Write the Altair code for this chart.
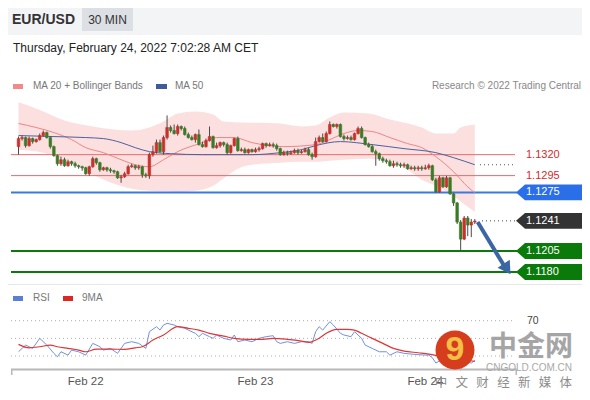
import altair as alt
import pandas as pd

# ---------------- data (EUR/USD 30-min candles, index 0 = Feb 21 14:30) ----------------
opens = [1.13296,1.13392,1.13404,1.13308,1.13392,1.13356,1.13380,1.13428,1.13464,1.13404,
         1.13296,1.13188,1.13092,1.13140,1.13068,1.13116,1.13092,1.13068,1.13056,1.13044,
         1.12972,1.13056,1.13152,1.13104,1.13020,1.13044,1.13020,1.13008,1.12996,1.12924,
         1.12936,1.12972,1.13056,1.13068,1.13044,1.13056,1.12960,1.12948,1.13200,1.13236,
         1.13344,1.13236,1.13404,1.13524,1.13488,1.13452,1.13536,1.13512,1.13440,1.13404,
         1.13380,1.13440,1.13320,1.13296,1.13368,1.13416,1.13284,1.13308,1.13344,1.13320,
         1.13224,1.13308,1.13392,1.13248,1.13260,1.13224,1.13260,1.13236,1.13260,1.13272,
         1.13332,1.13308,1.13320,1.13308,1.13272,1.13200,1.13224,1.13212,1.13224,1.13248,
         1.13224,1.13236,1.13260,1.13200,1.13176,1.13356,1.13404,1.13356,1.13452,1.13560,
         1.13536,1.13560,1.13416,1.13392,1.13404,1.13380,1.13452,1.13512,1.13404,1.13320,
         1.13296,1.13236,1.13212,1.13152,1.13128,1.13116,1.13068,1.13092,1.13080,1.13068,
         1.13080,1.13032,1.13044,1.13032,1.13044,1.13032,1.13044,1.13068,1.12900,1.12756,
         1.12924,1.12816,1.12924,1.12732,1.12624,1.12396,1.12192,1.12444,1.12360,1.12396]
highs = [1.13416,1.13428,1.13416,1.13416,1.13404,1.13392,1.13452,1.13488,1.13476,1.13416,
         1.13308,1.13200,1.13176,1.13164,1.13140,1.13128,1.13116,1.13080,1.13068,1.13056,
         1.13068,1.13176,1.13164,1.13116,1.13056,1.13056,1.13044,1.13020,1.13008,1.12960,
         1.12996,1.13080,1.13092,1.13080,1.13080,1.13068,1.12984,1.13224,1.13308,1.13380,
         1.13380,1.13428,1.13668,1.13548,1.13560,1.13560,1.13548,1.13536,1.13464,1.13428,
         1.13452,1.13500,1.13356,1.13392,1.13536,1.13428,1.13344,1.13356,1.13356,1.13344,
         1.13320,1.13404,1.13416,1.13284,1.13284,1.13272,1.13272,1.13284,1.13296,1.13344,
         1.13344,1.13344,1.13344,1.13332,1.13284,1.13248,1.13248,1.13248,1.13272,1.13272,
         1.13260,1.13284,1.13284,1.13224,1.13404,1.13428,1.13452,1.13476,1.13596,1.13572,
         1.13572,1.13572,1.13440,1.13428,1.13428,1.13464,1.13536,1.13536,1.13416,1.13344,
         1.13320,1.13260,1.13224,1.13176,1.13152,1.13140,1.13128,1.13116,1.13104,1.13104,
         1.13092,1.13068,1.13068,1.13068,1.13068,1.13080,1.13092,1.13080,1.12924,1.12948,
         1.12936,1.12948,1.12936,1.12744,1.12636,1.12420,1.12468,1.12468,1.12432,1.12432]
lows = [1.13200,1.13368,1.13284,1.13296,1.13332,1.13344,1.13368,1.13416,1.13392,1.13272,
        1.13176,1.13068,1.13068,1.13056,1.13056,1.13068,1.13044,1.13032,1.13008,1.12960,
        1.12948,1.13044,1.13080,1.12996,1.13008,1.12996,1.12984,1.12972,1.12912,1.12864,
        1.12924,1.12960,1.13044,1.13020,1.13020,1.12924,1.12924,1.12912,1.13176,1.13212,
        1.13224,1.13200,1.13380,1.13464,1.13440,1.13428,1.13488,1.13428,1.13392,1.13368,
        1.13344,1.13308,1.13284,1.13284,1.13356,1.13272,1.13272,1.13284,1.13296,1.13200,
        1.13212,1.13296,1.13236,1.13236,1.13212,1.13212,1.13224,1.13224,1.13236,1.13260,
        1.13284,1.13296,1.13284,1.13248,1.13188,1.13188,1.13188,1.13200,1.13212,1.13200,
        1.13212,1.13224,1.13188,1.13140,1.13164,1.13344,1.13344,1.13344,1.13440,1.13524,
        1.13512,1.13404,1.13368,1.13380,1.13368,1.13368,1.13440,1.13392,1.13308,1.13284,
        1.13224,1.13068,1.13128,1.13104,1.13092,1.13056,1.13044,1.13056,1.13044,1.13044,
        1.13020,1.13020,1.13008,1.13008,1.13008,1.13020,1.13020,1.12888,1.12744,1.12744,
        1.12804,1.12804,1.12720,1.12588,1.12372,1.12060,1.12180,1.12228,1.12216,1.12372]
closes = [1.13392,1.13404,1.13308,1.13392,1.13356,1.13380,1.13428,1.13464,1.13404,1.13296,
          1.13188,1.13092,1.13140,1.13068,1.13116,1.13092,1.13068,1.13056,1.13044,1.12972,
          1.13056,1.13152,1.13104,1.13020,1.13044,1.13020,1.13008,1.12996,1.12924,1.12936,
          1.12972,1.13056,1.13068,1.13044,1.13056,1.12960,1.12948,1.13200,1.13236,1.13344,
          1.13236,1.13404,1.13524,1.13488,1.13452,1.13536,1.13512,1.13440,1.13404,1.13380,
          1.13440,1.13320,1.13296,1.13368,1.13416,1.13284,1.13308,1.13344,1.13320,1.13224,
          1.13308,1.13392,1.13248,1.13260,1.13224,1.13260,1.13236,1.13260,1.13272,1.13332,
          1.13308,1.13320,1.13308,1.13272,1.13200,1.13224,1.13212,1.13224,1.13248,1.13224,
          1.13236,1.13260,1.13200,1.13176,1.13356,1.13404,1.13356,1.13452,1.13560,1.13536,
          1.13560,1.13416,1.13392,1.13404,1.13380,1.13452,1.13512,1.13404,1.13320,1.13296,
          1.13236,1.13212,1.13152,1.13128,1.13116,1.13068,1.13092,1.13080,1.13068,1.13080,
          1.13032,1.13044,1.13032,1.13044,1.13032,1.13044,1.13068,1.12900,1.12756,1.12924,
          1.12816,1.12924,1.12732,1.12624,1.12396,1.12192,1.12444,1.12360,1.12396,1.12408]

band_i = [0,7,13,21,27,32,37,41,45,50,55,58,63,68,74,80,84,88,92,99,105,110,114,118,123,125,129]
band_up = [1.13824,1.13716,1.13608,1.13536,1.13500,1.13488,1.13524,1.13596,1.13692,1.13716,
           1.13680,1.13596,1.13584,1.13580,1.13572,1.13536,1.13548,1.13644,1.13704,1.13692,
           1.13620,1.13572,1.13524,1.13452,1.13452,1.13524,1.13560]
band_lo = [1.13260,1.13224,1.13140,1.12960,1.12852,1.12792,1.12770,1.12762,1.12756,1.12770,
           1.12830,1.12920,1.13050,1.13090,1.13104,1.13116,1.13116,1.13128,1.13140,1.13152,
           1.13116,1.13020,1.12900,1.12828,1.12708,1.12640,1.12516]

ma20_i = [0,5,10,15,19,24,29,33,37,41,45,52,56,61,66,75,84,88,92,96,100,105,110,114,118,123,127,129]
ma20_v = [1.13572,1.13524,1.13464,1.13380,1.13284,1.13224,1.13140,1.13080,1.13056,1.13140,
          1.13236,1.13344,1.13404,1.13404,1.13344,1.13296,1.13320,1.13380,1.13452,1.13488,
          1.13476,1.13404,1.13332,1.13284,1.13176,1.12996,1.12816,1.12744]
ma50_i = [0,10,19,24,29,33,37,43,52,66,74,80,84,91,100,109,118,123,129]
ma50_v = [1.13428,1.13416,1.13404,1.13392,1.13344,1.13284,1.13236,1.13212,1.13200,1.13200,
          1.13224,1.13260,1.13308,1.13356,1.13320,1.13272,1.13224,1.13164,1.13080]

levels_red = [1.1320, 1.1295]
level_blue = 1.1275
level_last = 1.1241
levels_green = [1.1205, 1.1180]
ma50_last = 1.13080

arrow_i = [129.8, 137.2]
arrow_p = [1.12396, 1.11880]
arrow_head_i = [137.8]
arrow_head_p = [1.11856]

rsi_i = [0,2,4,6,8,10,11,12,14,15,17,19,21,23,24,26,28,30,32,34,36,37,39,40,41,42,44,45,47,48,
         50,51,52,54,55,56,58,60,61,62,64,66,68,70,72,73,74,76,78,80,82,83,84,85,86,88,89,91,92,94,
         95,97,98,100,102,104,105,107,109,112,115,116,117,118,120,122,124,125,126,128,129]
rsi_v = [34.8,42.4,38.6,50,42.4,33,29.1,34.8,31,36.7,34.8,31,44.3,40.5,36.7,38.6,33,44.3,46.2,44.3,
         38.6,57.5,63.2,59.4,65.1,67,65.1,63.2,61.4,59.4,55.7,51.9,55.7,51.9,50,53.8,50,48.1,53.8,46.2,
         48.1,46.2,50,51.9,53,46.2,44.3,46.2,44.3,46.2,46.2,44.3,57.5,63.2,59.4,68.9,65.1,55.7,53.8,51.9,
         57.5,50,42.4,38.6,34.8,34.8,31,34.8,33,31.8,31,31,28,22,27,21,17,14,24,22,25]
rsi_ma_i = [0,3,6,9,11,14,17,19,22,26,30,33,35,38,41,45,48,51,54,58,61,65,69,72,76,80,82,85,87,90,
            93,95,97,100,103,106,109,113,116,120,125,129]
rsi_ma_v = [43.2,39.3,40.5,42.4,40.5,38.6,36.7,34.8,37.8,37.8,37.5,39.3,40.5,48.1,53.8,63.2,61.4,59.4,55.7,52.6,
            50,48.9,48.9,50,48.9,46.9,45.4,50,55.7,60.2,60.2,59.4,55.7,50,44.3,38.6,35.6,33.7,32.2,29,
            26,24]
rsi_levels = [70, 50, 30]

day_idx = [19, 67, 115]
day_labels = ["Feb 22", "Feb 23", "Feb 24"]

wm_chars = ["中", "文", "财", "经", "新", "媒", "体"]

# ---------------- layout / styles ----------------
W, H = 574, 382
FONT = "Liberation Sans"
CJK = "Noto Sans CJK SC"
UP, DOWN = "#c8312c", "#3b7a26"
xs = alt.Scale(domain=[-1.5556, 157.889], nice=False, zero=False)
ps = alt.Scale(domain=[1.10392, 1.14950], nice=False, zero=False)
rs = alt.Scale(domain=[-8.53, 424.33], nice=False, zero=False)
X = lambda f: alt.X(f + ":Q", scale=xs, axis=None)
PY = lambda f: alt.Y(f + ":Q", scale=ps, axis=None)
RY = lambda f: alt.Y(f + ":Q", scale=rs, axis=None)

one = pd.DataFrame({"k": [0]})


def label(s, x, y, size=10, color="#666", weight="normal", align="left", font=FONT, opacity=1.0):
    return alt.Chart(one).mark_text(text=s, fontSize=size, color=color, fontWeight=weight, align=align,
                                    baseline="middle", font=font, opacity=opacity).encode(
        x=alt.value(x), y=alt.value(y))


def rect(x1, x2, y1, y2, color):
    return alt.Chart(one).mark_rect(color=color).encode(
        x=alt.value(x1), x2=alt.value(x2), y=alt.value(y1), y2=alt.value(y2))


def hline(p, scale, color, width, dash=None, x1=3, x2=507):
    kw = dict(color=color, strokeWidth=width)
    if dash:
        kw["strokeDash"] = dash
    return alt.Chart(pd.DataFrame({"p": [p]})).mark_rule(**kw).encode(
        x=alt.value(x1), x2=alt.value(x2), y=alt.Y("p:Q", scale=scale, axis=None))


BOX = "M-1,0L-0.727,-0.242L1,-0.242L1,0.242L-0.727,0.242Z"


def tag(p, fill):
    d = pd.DataFrame({"p": [p], "t": [f"{p:.4f}"]})
    b = alt.Chart(d).mark_point(shape=BOX, size=66 * 66, filled=True, opacity=1, strokeWidth=0, color=fill).encode(
        x=alt.value(541), y=PY("p"))
    t = alt.Chart(d).mark_text(align="left", baseline="middle", fontSize=11, color="white", font=FONT).encode(
        x=alt.value(518), y=PY("p"), text="t:N")
    return [b, t]


layers = []
# header
layers += [rect(0, W, 0, 27, "#f3f4f6"), rect(74, 125, 0, 23, "#dcdfe4"),
           label("EUR/USD", 4, 12, size=14, color="#333", weight="bold"),
           label("30 MIN", 99.5, 12, size=12, color="#333", align="center"),
           label("Thursday, February 24, 2022 7:02:28 AM CET", 5, 40, size=12, color="#222")]
# legend
layers += [rect(5, 15, 76, 81, "#f28a8a"), label("MA 20 + Bollinger Bands", 25, 78, color="#777"),
           rect(148, 159, 76, 81, "#3f5b9c"), label("MA 50", 167, 78, color="#777"),
           label("Research © 2022 Trading Central", 573, 78, color="#888", align="right")]

# bollinger band
bdf = pd.DataFrame({"i": band_i, "u": band_up, "l": band_lo})
layers.append(alt.Chart(bdf).mark_area(color="#fcdcdc", opacity=0.9, interpolate="monotone").encode(
    x=X("i"), y=PY("u"), y2="l:Q"))

# level lines
for p in levels_red:
    layers.append(hline(p, ps, "#e46b6b", 1))
layers.append(hline(level_blue, ps, "#3b78e0", 2, x2=509))
for p in levels_green:
    layers.append(hline(p, ps, "#0b7a0b", 2, x2=509))
layers.append(hline(level_last, ps, "#444", 1, dash=[1, 3], x1=474))
layers.append(hline(ma50_last, ps, "#555", 1, dash=[1, 3], x1=472))

# moving averages
layers.append(alt.Chart(pd.DataFrame({"i": ma20_i, "v": ma20_v})).mark_line(
    color="#ef8585", strokeWidth=1, interpolate="monotone").encode(x=X("i"), y=PY("v")))
layers.append(alt.Chart(pd.DataFrame({"i": ma50_i, "v": ma50_v})).mark_line(
    color="#4d61a0", strokeWidth=1, interpolate="monotone").encode(x=X("i"), y=PY("v")))

# candles
cdf = pd.DataFrame({"i": list(range(len(closes))), "o": opens, "h": highs, "l": lows, "c": closes})
cdf["dir"] = ["up" if c >= o else "down" for o, c in zip(opens, closes)]
cscale = alt.Scale(domain=["up", "down"], range=[UP, DOWN])
layers.append(alt.Chart(cdf).mark_rule(color="#4a4a4a", strokeWidth=1).encode(x=X("i"), y=PY("l"), y2="h:Q"))
layers.append(alt.Chart(cdf).mark_bar(size=2.6, strokeWidth=0.6).encode(
    x=X("i"), y=PY("o"), y2="c:Q",
    fill=alt.Fill("dir:N", scale=cscale, legend=None),
    stroke=alt.Stroke("dir:N", scale=cscale, legend=None)))

# level labels
for p in levels_red:
    layers.append(alt.Chart(pd.DataFrame({"p": [p], "t": [f"{p:.4f}"]})).mark_text(
        align="left", baseline="middle", fontSize=11, color="#d42a2a", font=FONT).encode(
        x=alt.value(518), y=PY("p"), text="t:N"))
layers += tag(level_blue, "#2a6ee8")
layers += tag(level_last, "#333333")
for p in levels_green:
    layers += tag(p, "#0a7a0a")

# forecast arrow
layers.append(alt.Chart(pd.DataFrame({"i": arrow_i, "p": arrow_p})).mark_line(
    color="#3b66a3", strokeWidth=4, strokeCap="butt").encode(x=X("i"), y=PY("p")))
layers.append(alt.Chart(pd.DataFrame({"i": arrow_head_i, "p": arrow_head_p})).mark_point(
    shape="triangle", angle=147, size=210, filled=True, opacity=1, color="#3b66a3").encode(x=X("i"), y=PY("p")))

# separator
layers.append(rect(0, W, 276, 277, "#e8e8e8"))

# RSI panel
layers += [rect(5, 15, 288, 293, "#5b7fd6"), label("RSI", 25, 290, color="#777"),
           rect(55, 65, 288, 293, "#e02525"), label("9MA", 74, 290, color="#777")]
for v in rsi_levels:
    layers.append(hline(v, rs, "#b0b0b0", 1, dash=[1, 3]))
layers.append(label("70", 519, 312.5, size=10.5, color="#444"))
layers.append(alt.Chart(pd.DataFrame({"i": rsi_i, "v": rsi_v})).mark_line(
    color="#7092e0", strokeWidth=1).encode(x=X("i"), y=RY("v")))
layers.append(alt.Chart(pd.DataFrame({"i": rsi_ma_i, "v": rsi_ma_v})).mark_line(
    color="#de3636", strokeWidth=1.2, interpolate="monotone").encode(x=X("i"), y=RY("v")))
# bottom axis
layers.append(rect(3, 509, 360.5, 362.5, "#b8b8b8"))
layers.append(rect(3, 4.5, 361, 367, "#b8b8b8"))
layers.append(rect(507.5, 509, 361, 367, "#b8b8b8"))
layers.append(alt.Chart(pd.DataFrame({"i": day_idx, "t": day_labels})).mark_text(
    fontSize=11.5, color="#555", font=FONT, align="center", baseline="middle").encode(
    x=X("i"), y=alt.value(374), text="t:N"))

# watermark
layers.append(alt.Chart(one).mark_point(shape="circle", size=1520, filled=True, opacity=1, color="#d63d1d").encode(
    x=alt.value(447), y=alt.value(342)))
layers.append(label("9", 447, 342, size=34, color="#f5bf45", weight="bold", align="center"))
layers.append(label("中金网", 523, 340, size=28, color="#9c9c9c", weight="bold", align="center", font=CJK, opacity=0.9))
layers.append(label("CNGOLD.COM.CN", 521, 360, size=10, color="#a8a8a8", align="center"))
for k, ch in enumerate(wm_chars):
    layers.append(label(ch, 433 + 20.8 * k, 374.5, size=12.5, color="#8c8c8c", align="center", font=CJK))

chart = alt.layer(*layers).resolve_scale(y="independent").properties(
    width=W, height=H, padding=0, autosize=alt.AutoSizeParams(type="none"), background="white"
).configure_view(stroke=None)

chart.save("out.html", embed_options={"renderer": "svg", "actions": False})
